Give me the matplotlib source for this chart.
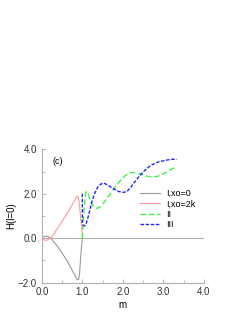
import matplotlib
matplotlib.use("Agg")
import matplotlib.pyplot as plt
from matplotlib.ticker import MultipleLocator

plt.rcParams['font.family'] = ['Liberation Sans', 'DejaVu Sans']

m_gray = [0, 0.05, 0.1, 0.15, 0.22, 0.3, 0.4, 0.5, 0.6, 0.7, 0.78, 0.84, 0.88, 0.91, 0.93, 0.95, 0.97, 0.99, 1.0]
h_gray = [0, 0.07, 0.1, 0.07, 0, -0.17, -0.4, -0.67, -0.95, -1.27, -1.55, -1.77, -1.87, -1.85, -1.6, -1.1, -0.6, -0.15, 0]

m_pink = [0, 0.05, 0.1, 0.15, 0.22, 0.3, 0.4, 0.5, 0.6, 0.7, 0.78, 0.84, 0.88, 0.9, 0.92, 0.94, 0.96, 0.98, 1.0]
h_pink = [0, -0.07, -0.1, -0.07, 0, 0.2, 0.47, 0.76, 1.05, 1.35, 1.6, 1.8, 1.9, 1.85, 1.6, 1.25, 0.9, 0.5, 0.2]

m_green = [1.0, 1.02, 1.04, 1.06, 1.08, 1.1, 1.13, 1.17, 1.22, 1.28, 1.34, 1.4, 1.47, 1.55, 1.65, 1.75, 1.85, 1.95, 2.05, 2.15, 2.25, 2.35, 2.45, 2.55, 2.65, 2.75, 2.85, 2.95, 3.05, 3.15, 3.25, 3.33]
h_green = [0.0, 0.6, 1.2, 1.7, 2.0, 2.1, 2.05, 1.85, 1.6, 1.42, 1.35, 1.36, 1.45, 1.65, 1.9, 2.15, 2.4, 2.62, 2.8, 2.92, 2.96, 2.93, 2.87, 2.81, 2.77, 2.76, 2.78, 2.85, 2.95, 3.05, 3.15, 3.22]

m_blue = [1.0, 1.0, 1.02, 1.05, 1.08, 1.12, 1.17, 1.23, 1.3, 1.38, 1.45, 1.52, 1.6, 1.7, 1.8, 1.9, 2.0, 2.1, 2.2, 2.3, 2.4, 2.5, 2.6, 2.7, 2.8, 2.9, 3.0, 3.1, 3.2, 3.27, 3.33]
h_blue = [2.0, 0.7, 0.58, 0.55, 0.6, 0.8, 1.15, 1.6, 2.0, 2.3, 2.43, 2.48, 2.42, 2.3, 2.2, 2.1, 2.06, 2.1, 2.3, 2.55, 2.78, 2.98, 3.15, 3.28, 3.38, 3.44, 3.48, 3.52, 3.55, 3.55, 3.54]

labels = ['I,xo=0', 'I,xo=2k', 'II', 'III']

fig = plt.figure(figsize=(2.46, 3.19), dpi=100)
ax = fig.add_axes([0.17, 0.114, 0.659, 0.418])
ax.axhline(0, color='#b0b0b0', lw=0.8, zorder=1)
ax.plot(m_gray, h_gray, color='#999999', lw=0.8, label=labels[0])
ax.plot(m_pink, h_pink, color='#ff9a9a', lw=0.8, label=labels[1])
ax.plot(m_green, h_green, color='#44ee44', lw=1.0, ls=(0, (4, 2)), label=labels[2])
ax.plot(m_blue, h_blue, color='#2222ff', lw=1.0, ls=(0, (2.5, 1.2)), label=labels[3])

ax.set_xlim(0, 4)
ax.set_ylim(-2, 4)
ax.xaxis.set_major_locator(MultipleLocator(1))
ax.xaxis.set_minor_locator(MultipleLocator(0.5))
ax.yaxis.set_major_locator(MultipleLocator(2))
ax.yaxis.set_minor_locator(MultipleLocator(1))
ax.xaxis.set_major_formatter(plt.FuncFormatter(lambda v, p: f"{v:.1f}"))
ax.yaxis.set_major_formatter(plt.FuncFormatter(lambda v, p: f"{v:.1f}".replace('-', '\u2212')))
for s in ['top', 'right']:
    ax.spines[s].set_visible(False)
for s in ['left', 'bottom']:
    ax.spines[s].set_color('#b0b0b0')
    ax.spines[s].set_linewidth(0.8)
ax.tick_params(which='both', direction='in', colors='#b0b0b0', labelcolor='#333333', labelsize=7, width=0.6)
ax.tick_params(which='major', length=3)
ax.tick_params(which='minor', length=2)
ax.set_xlabel('m', fontsize=7, labelpad=2)
ax.set_ylabel('H(l=0)', fontsize=7, labelpad=1)
ax.text(0.4, 3.43, '(c)', fontsize=6.5, ha='center', va='center')
ax.legend(loc='upper left', bbox_to_anchor=(0.58, 0.735), frameon=False, fontsize=6.5,
          handlelength=2.2, handletextpad=0.65, labelspacing=0.15, borderpad=0)
fig.savefig('out.png', dpi=100)
